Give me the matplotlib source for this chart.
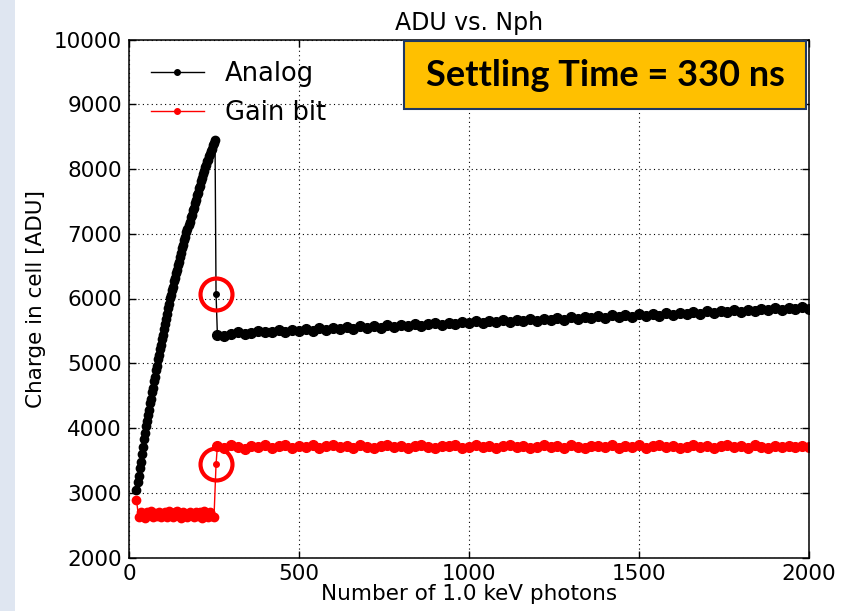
import numpy as np
import matplotlib
matplotlib.use("Agg")
from matplotlib import pyplot as plt
from matplotlib.patches import Rectangle


# Photon scan: fast rise before the gain switch, then a slow slope after it
nph_rise = np.arange(22, 254, 3)
nph_low = np.arange(22, 251, 6)
nph_switch = 256
nph_flat = np.arange(260, 2001, 20)

analog_rise = [
    3050, 3165, 3260, 3385, 3480, 3605, 3700, 3825, 3920,
    4035, 4110, 4205, 4280, 4380, 4450, 4550, 4620, 4720, 4790, 4890, 4965,
    5060, 5125, 5220, 5280, 5375, 5440, 5535, 5600, 5690, 5755, 5850, 5915,
    6005, 6060, 6135, 6185, 6265, 6310, 6390, 6440, 6520, 6565, 6645, 6695,
    6775, 6820, 6900, 6950,
    7025, 7070, 7140, 7180, 7255, 7295, 7365, 7405, 7480, 7520, 7595, 7635,
    7705, 7745, 7820, 7860, 7930, 7975,
    8035, 8065, 8120, 8145, 8200, 8230, 8285, 8315, 8370, 8400, 8455,
]
analog_switch = 6070
analog_flat = [
    5440, 5420, 5450, 5480, 5455, 5470, 5500, 5475, 5490, 5510,
    5485, 5520, 5500, 5530, 5505, 5540, 5515, 5545, 5525, 5560,
    5535, 5570, 5545, 5575, 5550, 5585, 5560, 5590, 5570, 5605,
    5580, 5600, 5620, 5590, 5625, 5600, 5640, 5615, 5645, 5620,
    5655, 5630, 5665, 5640, 5670, 5650, 5680, 5655, 5690, 5665,
    5700, 5675, 5710, 5685, 5720, 5695, 5725, 5700, 5740, 5710,
    5745, 5720, 5765, 5730, 5760, 5735, 5770, 5745, 5780, 5755,
    5790, 5765, 5800, 5775, 5810, 5785, 5820, 5795, 5830, 5805,
    5840, 5815, 5850, 5825, 5860, 5835, 5865, 5845,
]

gain_low = [
    2890, 2630, 2710, 2645, 2615, 2700, 2660, 2720, 2625, 2690,
    2640, 2710, 2620, 2675, 2705, 2630, 2715, 2660, 2620, 2695,
    2720, 2640, 2615, 2700, 2670, 2630, 2710, 2655, 2620, 2705,
    2640, 2695, 2615, 2715, 2660, 2630, 2700, 2645, 2625,
]
gain_switch = 3440
gain_flat = [
    3720, 3690, 3730, 3700, 3680, 3725, 3710, 3740, 3695, 3715,
    3735, 3690, 3720, 3705, 3740, 3685, 3715, 3730, 3700, 3720,
    3690, 3735, 3710, 3695, 3725, 3740, 3700, 3715, 3685, 3720,
    3730, 3705, 3690, 3725, 3715, 3740, 3695, 3710, 3730, 3700,
    3720, 3685, 3715, 3735, 3700, 3725, 3690, 3710, 3740, 3705,
    3720, 3695, 3730, 3710, 3685, 3725, 3715, 3700, 3735, 3690,
    3720, 3705, 3730, 3695, 3715, 3740, 3700, 3720, 3685, 3710,
    3730, 3700, 3725, 3690, 3715, 3735, 3705, 3720, 3695, 3730,
    3710, 3690, 3725, 3705, 3720, 3700, 3715, 3710,
]

x_ticks = [0, 500, 1000, 1500, 2000]
y_ticks = [2000, 3000, 4000, 5000, 6000, 7000, 8000, 9000, 10000]


def main():
    analog_x = np.concatenate([nph_rise, [nph_switch], nph_flat])
    analog_y = np.concatenate([analog_rise, [analog_switch], analog_flat])
    gain_x = np.concatenate([nph_low, [nph_switch], nph_flat])
    gain_y = np.concatenate([gain_low, [gain_switch], gain_flat])

    fig = plt.figure(figsize=(8.49, 6.11), dpi=100)
    fig.add_artist(Rectangle((0, 0), 15 / 849, 1, transform=fig.transFigure,
                             facecolor="#dfe6f1", edgecolor="none"))

    ax = fig.add_axes([129 / 849, 53.5 / 611, 680 / 849, 518 / 611])
    ax.plot(analog_x, analog_y, "k-", lw=1, marker="o", ms=4, mec="k", label="Analog")
    ax.plot(gain_x, gain_y, "r-", lw=1, marker="o", ms=4, mec="r", label="Gain bit")

    # heavier dots where the samples sit densely
    ax.plot(nph_rise, analog_rise, "o", color="k", ms=6)
    ax.plot(nph_flat, analog_flat, "o", color="k", ms=7)
    ax.plot(nph_low, gain_low, "o", color="r", ms=6)
    ax.plot(nph_flat, gain_flat, "o", color="r", ms=7)

    # highlight the single sample taken during the switch
    ax.plot([nph_switch, nph_switch], [analog_switch, gain_switch], "o",
            ms=23, mfc="none", mec="#ff0000", mew=3, zorder=4)

    ax.set_xlim(0, 2000)
    ax.set_ylim(2000, 10000)
    ax.set_xticks(x_ticks)
    ax.set_yticks(y_ticks)
    ax.grid(True, color="k", lw=0.8, linestyle=(0, (1, 3)))
    ax.tick_params(direction="in", top=True, right=True, length=5, width=1,
                   labelsize=15.5, pad=5)
    for s in ax.spines.values():
        s.set_linewidth(1.1)

    ax.set_title("ADU vs. Nph", fontsize=17, pad=7)
    ax.set_xlabel("Number of 1.0 keV photons", fontsize=15.5, labelpad=0)
    ax.set_ylabel("Charge in cell [ADU]", fontsize=15.5, labelpad=6)

    ax.legend(loc="upper left", frameon=False, fontsize=18.5, handlelength=2.06,
              handletextpad=0.82, borderaxespad=0.45, labelspacing=0.5,
              numpoints=1)

    # settling time label box over the top right of the plot
    fig.add_artist(Rectangle((404 / 849, 502 / 611), 402 / 849, 68 / 611,
                             transform=fig.transFigure, facecolor="#ffc000",
                             edgecolor="#1f3864", lw=1.5, zorder=5))
    fig.text(605 / 849, 1 - 76 / 611, "Settling Time = 330 ns", fontsize=26,
             fontweight="bold", family="Lato", ha="center", va="center", zorder=6)

    fig.savefig("out.png", dpi=100)
    plt.close(fig)


if __name__ == "__main__":
    main()
